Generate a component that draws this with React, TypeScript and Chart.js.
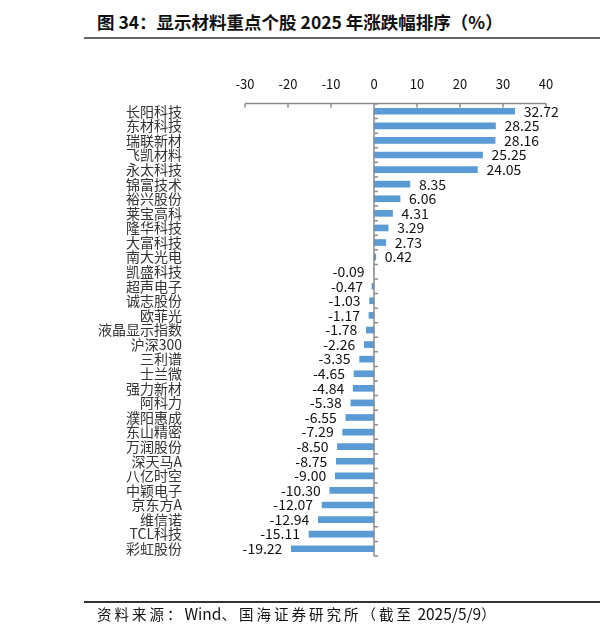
import React, { useEffect, useRef } from 'react';
import { Chart, registerables } from 'chart.js';

Chart.register(...registerables);

const categories = [
  '长阳科技', '东材科技', '瑞联新材', '飞凯材料', '永太科技', '锦富技术', '裕兴股份', '莱宝高科',
  '隆华科技', '大富科技', '南大光电', '凯盛科技', '超声电子', '诚志股份', '欧菲光', '液晶显示指数',
  '沪深300', '三利谱', '士兰微', '强力新材', '阿科力', '濮阳惠成', '东山精密', '万润股份',
  '深天马A', '八亿时空', '中颖电子', '京东方A', '维信诺', 'TCL科技', '彩虹股份',
];

const values = [
  32.72, 28.25, 28.16, 25.25, 24.05, 8.35, 6.06, 4.31,
  3.29, 2.73, 0.42, -0.09, -0.47, -1.03, -1.17, -1.78,
  -2.26, -3.35, -4.65, -4.84, -5.38, -6.55, -7.29, -8.5,
  -8.75, -9.0, -10.3, -12.07, -12.94, -15.11, -19.22,
];

const xTicks = [-30, -20, -10, 0, 10, 20, 30, 40];

const titleText = '图 34：显示材料重点个股 2025 年涨跌幅排序（%）';
const footerParts = ['资料来源：', 'Wind', '、国海证券研究所（截至', ' 2025/5/9', '）'];

const BAR_COLOR = '#5B9BD5';
const AXIS_COLOR = '#8c8c8c';
const FONT = '"Noto Sans CJK SC", "Noto Sans", sans-serif';

export default function App() {
  const ref = useRef<HTMLCanvasElement>(null);

  useEffect(() => {
    document.body.style.margin = '0';
    const canvas = ref.current;
    if (!canvas) return;

    const decor = {
      id: 'decor',
      afterDraw(chart: any) {
        const { ctx, chartArea, scales } = chart;
        const xs = scales.x;
        const ys = scales.y;
        ctx.save();
        ctx.strokeStyle = AXIS_COLOR;
        ctx.lineWidth = 1.5;
        const top = chartArea.top - 0.5;
        ctx.beginPath();
        ctx.moveTo(xs.getPixelForValue(xTicks[0]), top);
        ctx.lineTo(xs.getPixelForValue(xTicks[xTicks.length - 1]), top);
        for (const v of xTicks) {
          const px = xs.getPixelForValue(v);
          ctx.moveTo(px, top);
          ctx.lineTo(px, top + 4);
        }
        const x0 = xs.getPixelForValue(0);
        ctx.moveTo(x0, top);
        ctx.lineTo(x0, chartArea.bottom);
        for (let i = 0; i <= categories.length; i++) {
          const py = ys.getPixelForValue(i - 0.5);
          ctx.moveTo(x0, py);
          ctx.lineTo(x0 + 4, py);
        }
        ctx.stroke();

        const meta = chart.getDatasetMeta(0);
        ctx.fillStyle = '#111';
        ctx.font = `14px ${FONT}`;
        ctx.textBaseline = 'middle';
        meta.data.forEach((el: any, i: number) => {
          const v = values[i];
          const txt = v.toFixed(2);
          if (v >= 0) {
            ctx.textAlign = 'left';
            ctx.fillText(txt, el.x + 9, el.y);
          } else {
            ctx.textAlign = 'right';
            ctx.fillText(txt, el.x - 9, el.y);
          }
        });
        ctx.restore();
      },
    };

    const chart = new Chart(canvas, {
      type: 'bar',
      data: {
        labels: categories,
        datasets: [
          {
            data: values,
            backgroundColor: BAR_COLOR,
            borderWidth: 0,
            barThickness: 6,
          },
        ],
      },
      options: {
        indexAxis: 'y',
        animation: false,
        responsive: false,
        maintainAspectRatio: false,
        layout: { padding: { left: 0, right: 54, top: 0, bottom: 83 } },
        plugins: {
          legend: { display: false },
          tooltip: { enabled: false },
        },
        scales: {
          x: {
            position: 'top',
            min: -30,
            max: 40,
            ticks: {
              stepSize: 10,
              padding: 4,
              color: '#111',
              font: { size: 13, family: FONT },
            },
            grid: { display: false },
            border: { display: false },
            afterFit(s: any) {
              s.height = 104;
            },
          },
          y: {
            ticks: {
              padding: 55,
              autoSkip: false,
              color: '#333',
              font: { size: 14, family: FONT },
            },
            grid: { display: false },
            border: { display: false },
            afterFit(s: any) {
              s.width = 245;
            },
          },
        },
      },
      plugins: [decor],
    });

    return () => chart.destroy();
  }, []);

  const cjk = { fontSize: 14.5, letterSpacing: 3 } as const;
  const latin = { fontSize: 15.5, letterSpacing: 0 } as const;

  return (
    <div style={{ position: 'relative', width: 600, height: 639, background: '#fff', overflow: 'hidden' }}>
      <div
        style={{
          position: 'absolute',
          left: 97,
          top: 10,
          fontFamily: FONT,
          fontWeight: 'bold',
          fontSize: 17.5,
          lineHeight: '24px',
          color: '#111',
          whiteSpace: 'nowrap',
        }}
      >
        {titleText}
      </div>
      <div style={{ position: 'absolute', left: 84, top: 37, width: 516, height: 2, background: '#666' }} />
      <canvas ref={ref} width={600} height={639} style={{ position: 'absolute', left: 0, top: 0 }} />
      <div style={{ position: 'absolute', left: 84, top: 601, width: 516, height: 1.5, background: '#333' }} />
      <div
        style={{
          position: 'absolute',
          left: 97,
          top: 603,
          fontFamily: FONT,
          lineHeight: '20px',
          color: '#111',
          whiteSpace: 'pre',
        }}
      >
        {footerParts.map((p, i) => (
          <span key={i} style={i === 1 || i === 3 ? latin : cjk}>
            {p}
          </span>
        ))}
      </div>
    </div>
  );
}
